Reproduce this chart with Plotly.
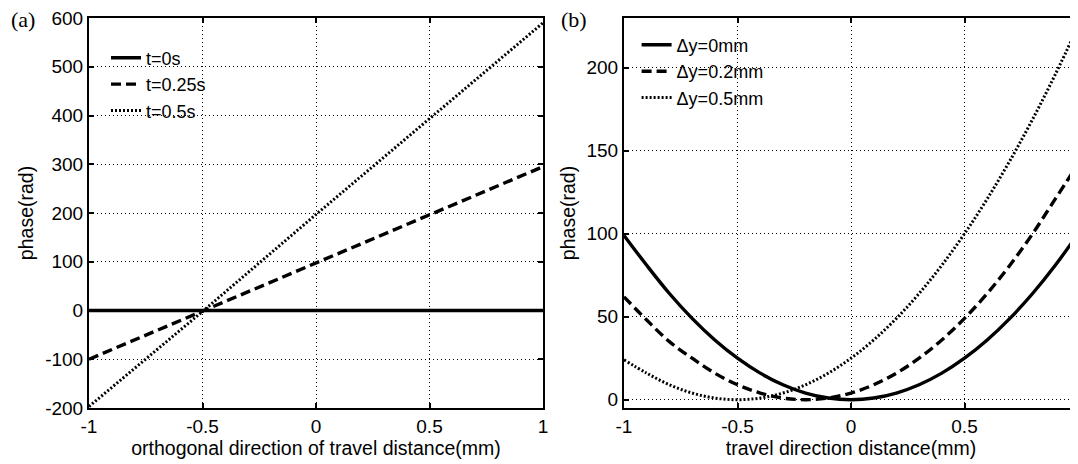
import plotly.graph_objects as go

# ---- data ----
x_a = [-1.0, -0.5, 0.0, 0.5, 1.0]
phase_t0 = [0, 0, 0, 0, 0]
phase_t025 = [-100, -1, 97, 196, 295]
phase_t05 = [-197, -2, 197, 394, 590]
labels_a = ["t=0s", "t=0.25s", "t=0.5s"]

x_b = [-1.0, -0.9, -0.8, -0.7, -0.6, -0.5, -0.4, -0.3, -0.2, -0.1, 0.0,
       0.1, 0.2, 0.3, 0.4, 0.5, 0.6, 0.7, 0.8, 0.9, 1.0]
phase_dy0 = [99, 81, 64, 49, 36, 25, 16, 9, 4, 1, 0,
             1, 4, 9, 16, 25, 36, 49, 64, 81, 100]
phase_dy02 = [62, 48, 35, 25, 16, 9, 4, 1, 0, 1, 4,
              9, 16, 25, 36, 49, 64, 81, 100, 121, 142]
phase_dy05 = [24, 16, 9, 4, 1, 0, 1, 4, 9, 16, 25,
              36, 49, 64, 81, 100, 121, 144, 169, 196, 225]
labels_b = ["Δy=0mm", "Δy=0.2mm", "Δy=0.5mm"]

x_ticks = [-1, -0.5, 0, 0.5, 1]
x_ticktext = ["-1", "-0.5", "0", "0.5", "1"]
ya_ticks = [-200, -100, 0, 100, 200, 300, 400, 500, 600]
ya_ticktext = ["-200", "-100", "0", "100", "200", "300", "400", "500", "600"]
yb_ticks = [0, 50, 100, 150, 200]
yb_ticktext = ["0", "50", "100", "150", "200"]

styles = [("solid", 3.4), ("10px,5px", 3.4), ("2px,2px", 3.0)]

# the page body adds an 8px offset, so the figure is sized to the visible area
W, H = 1070, 456

fig = go.Figure()
for ys, name, (dash, w) in zip([phase_t0, phase_t025, phase_t05], labels_a, styles):
    fig.add_trace(go.Scatter(x=x_a, y=ys, mode="lines", name=name,
                             line=dict(color="black", width=w, dash=dash),
                             xaxis="x", yaxis="y", legend="legend"))
for ys, name, (dash, w) in zip([phase_dy0, phase_dy02, phase_dy05], labels_b, styles):
    fig.add_trace(go.Scatter(x=x_b, y=ys, mode="lines", name=name,
                             line=dict(color="black", width=w, dash=dash, shape="spline"),
                             xaxis="x2", yaxis="y2", legend="legend2"))

fam = "Liberation Sans, Arial, sans-serif"
font_tick = dict(family=fam, size=19, color="black")
font_title = dict(family=fam, size=19.5, color="black")
font_leg = dict(family=fam, size=18, color="black")

common_axis = dict(
    showline=True, linecolor="black", linewidth=2, mirror="ticks",
    ticks="inside", ticklen=5, tickwidth=1.5, tickcolor="black",
    showgrid=True, gridcolor="black", gridwidth=1, griddash="1px,3px",
    zeroline=False, tickfont=font_tick, automargin=False,
    ticklabeloverflow="allow",
)

ydom = [(H - 400) / H, (H - 10) / H]

fig.update_layout(
    width=W, height=H,
    margin=dict(l=0, r=0, t=0, b=0),
    paper_bgcolor="white", plot_bgcolor="white",
    font=font_tick,
    xaxis=dict(domain=[81 / W, 535 / W], range=[-1, 1], tickvals=x_ticks, ticktext=x_ticktext,
               title=dict(text="orthogonal direction of travel distance(mm)", font=font_title, standoff=3),
               anchor="y", **common_axis),
    yaxis=dict(domain=ydom, range=[-200, 600], tickvals=ya_ticks, ticktext=ya_ticktext,
               title=dict(text="phase(rad)", font=font_title, standoff=6),
               anchor="x", **common_axis),
    xaxis2=dict(domain=[616 / W, 1.0], range=[-1, 1], tickvals=x_ticks, ticktext=x_ticktext,
                title=dict(text="travel direction distance(mm)", font=font_title, standoff=3),
                anchor="y2", **common_axis),
    yaxis2=dict(domain=ydom, range=[-5, 230], tickvals=yb_ticks, ticktext=yb_ticktext,
                title=dict(text="phase(rad)", font=font_title, standoff=6),
                anchor="x2", **common_axis),
    legend=dict(x=98 / W, y=1 - 31.5 / H, xanchor="left", yanchor="top", bgcolor="rgba(0,0,0,0)",
                borderwidth=0, font=font_leg, tracegroupgap=0, itemwidth=30),
    legend2=dict(x=628.6 / W, y=1 - 18.6 / H, xanchor="left", yanchor="top", bgcolor="rgba(0,0,0,0)",
                 borderwidth=0, font=font_leg, tracegroupgap=0, itemwidth=30),
    showlegend=True,
)

serif = dict(family="Liberation Serif, Times New Roman, serif", size=22, color="black")
fig.add_annotation(text="(a)", x=15 / W, y=1 - 12 / H, xref="paper", yref="paper",
                   showarrow=False, xanchor="center", yanchor="middle", font=serif)
fig.add_annotation(text="(b)", x=566 / W, y=1 - 11 / H, xref="paper", yref="paper",
                   showarrow=False, xanchor="center", yanchor="middle", font=serif)

fig.write_html("out.html")
